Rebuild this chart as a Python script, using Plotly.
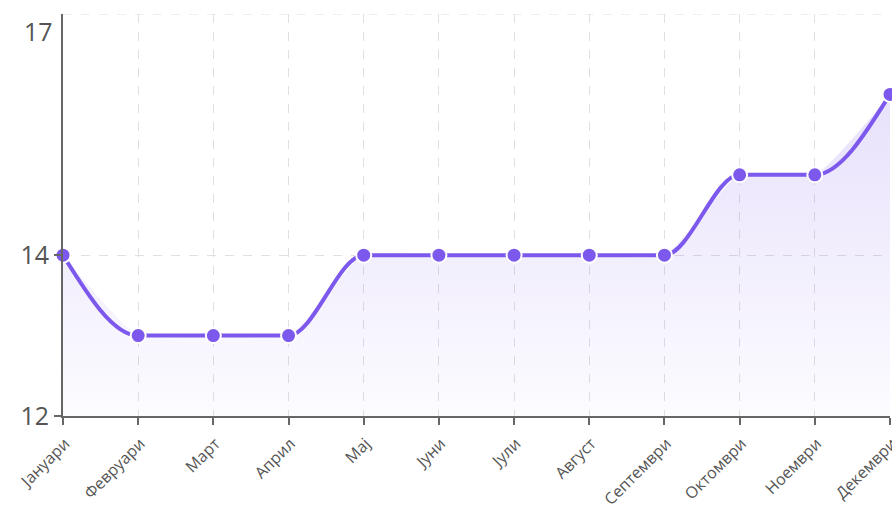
import plotly.graph_objects as go

months = ["Јануари", "Февруари", "Март", "Април", "Мај", "Јуни", "Јули",
          "Август", "Септември", "Октомври", "Ноември", "Декември"]
values = [14, 13, 13, 13, 14, 14, 14, 14, 14, 15, 15, 16]
y_ticks = [12, 14, 17]

line_color = "rgb(124, 88, 236)"
xs = list(range(len(months)))


def sign(v):
    return (v > 0) - (v < 0)


# monotone cubic (monotoneX) tangents derived from the data
n = len(values)
t = [0.0] * n
for i in range(1, n - 1):
    h0 = xs[i] - xs[i - 1]
    h1 = xs[i + 1] - xs[i]
    s0 = (values[i] - values[i - 1]) / h0
    s1 = (values[i + 1] - values[i]) / h1
    p = (s0 * h1 + s1 * h0) / (h0 + h1)
    t[i] = (sign(s0) + sign(s1)) * min(abs(s0), abs(s1), 0.5 * abs(p))
h = xs[1] - xs[0]
t[0] = (3 * (values[1] - values[0]) / h - t[1]) / 2
h = xs[-1] - xs[-2]
t[-1] = (3 * (values[-1] - values[-2]) / h - t[-2]) / 2

path = f"M {xs[0]},{values[0]}"
for i in range(n - 1):
    dx = (xs[i + 1] - xs[i]) / 3
    path += (f" C {xs[i] + dx},{values[i] + dx * t[i]}"
             f" {xs[i + 1] - dx},{values[i + 1] - dx * t[i + 1]}"
             f" {xs[i + 1]},{values[i + 1]}")

fig = go.Figure()
# gradient area
fig.add_trace(go.Scatter(
    x=xs, y=values, mode="lines",
    line=dict(color="rgba(0,0,0,0)", width=0, shape="spline", smoothing=0.5),
    fill="tozeroy",
    fillgradient=dict(type="vertical", start=12, stop=17,
                      colorscale=[[0, "rgba(124,88,236,0.02)"], [1, "rgba(124,88,236,0.22)"]]),
    hoverinfo="skip",
))
# markers
fig.add_trace(go.Scatter(
    x=xs, y=values, mode="markers",
    marker=dict(size=15, color=line_color, line=dict(color="white", width=2)),
    cliponaxis=False,
    text=months, hovertemplate="%{text}: %{y}<extra></extra>",
))

fig.add_shape(type="path", path=path, xref="x", yref="y",
              line=dict(color=line_color, width=4), layer="between")

# top gridline (at the axis end)
fig.add_shape(type="line", xref="paper", yref="y", x0=0, x1=1,
              y0=y_ticks[-1], y1=y_ticks[-1],
              line=dict(color="#e0e0e0", width=1, dash="dash"), layer="below")

# top tick label kept inside the figure, like the reference
fig.add_annotation(x=0, xref="paper", y=y_ticks[-1], yref="y",
                   text=str(y_ticks[-1]), showarrow=False,
                   xanchor="right", yanchor="top", xshift=-8, yshift=2,
                   font=dict(size=25, color="#555"))

# outside tick at the top of the y axis
fig.add_shape(type="line", xref="x", yref="y", xsizemode="pixel", xanchor=0,
              x0=-8, x1=0, y0=y_ticks[-1], y1=y_ticks[-1],
              line=dict(color="#666", width=2), layer="above")

fig.update_layout(
    width=892, height=508,
    margin=dict(l=63, r=2, t=14, b=92),
    paper_bgcolor="white", plot_bgcolor="white",
    showlegend=False,
    font=dict(family="Open Sans, sans-serif", color="#555"),
    xaxis=dict(
        range=[0, 11], tickvals=xs, ticktext=months, automargin=False,
        showline=True, linecolor="#666", linewidth=2,
        ticks="outside", ticklen=7, tickcolor="#666", tickwidth=2,
        tickangle=-45, tickfont=dict(size=16, color="#555"),
        ticklabeloverflow="allow", ticklabelshift=2, ticklabelstandoff=3,
        showgrid=True, gridcolor="#e0e0e0", griddash="dash", gridwidth=1,
        zeroline=False,
    ),
    yaxis=dict(
        range=[12, 17], tickvals=y_ticks[:-1], automargin=False,
        showline=True, linecolor="#666", linewidth=2,
        ticks="outside", ticklen=7, tickcolor="#666", tickwidth=2,
        tickfont=dict(size=25, color="#555"), ticklabeloverflow="allow",
        showgrid=True, gridcolor="#e0e0e0", griddash="dash", gridwidth=1,
        zeroline=False,
    ),
)

fig.write_html("out.html", config={"displayModeBar": False},
               post_script="document.body.style.margin='0';document.body.style.overflow='hidden';")
